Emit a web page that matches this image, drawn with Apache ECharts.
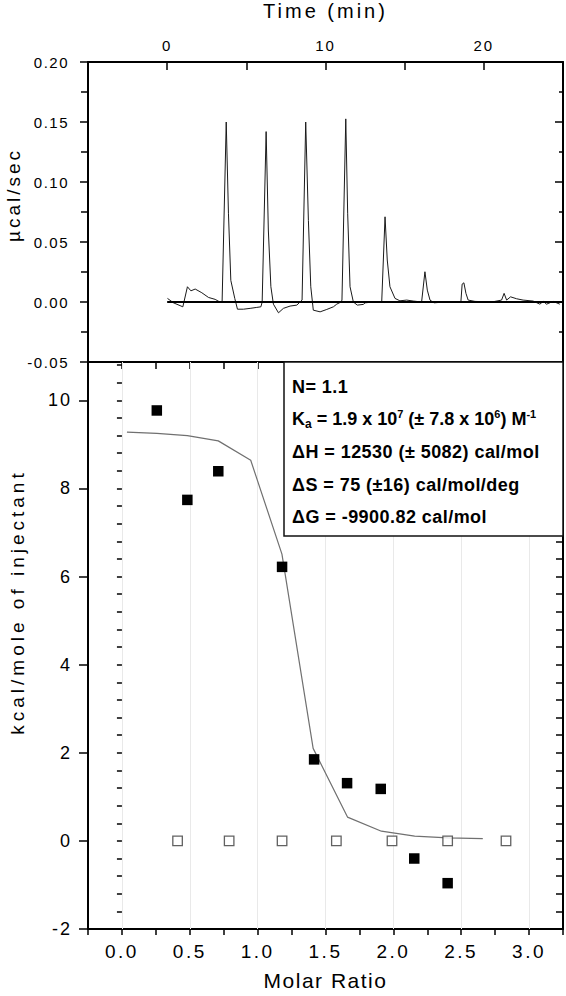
<!DOCTYPE html>
<html><head><meta charset="utf-8">
<script src="https://cdn.jsdelivr.net/npm/echarts@6/dist/echarts.min.js"></script>
<style>html,body{margin:0;padding:0;background:#fff}#c{width:566px;height:996px}</style>
</head><body><div id="c"></div>
<script>
// ---- Raw thermogram (top panel) ----
const timeMin = [0.02,0.40,0.99,1.28,1.50,1.77,2.19,2.61,3.03,3.30,
  3.47,3.73,3.87,4.02,4.27,4.44,4.82,5.24,5.66,5.92,
  6.00,6.25,6.39,6.55,6.71,7.03,7.34,7.76,8.19,8.39,
  8.52,8.75,8.92,9.07,9.23,9.66,10.08,10.50,10.71,10.98,
  11.04,11.28,11.40,11.55,11.76,12.01,12.39,12.50,13.00,13.55,
  13.76,13.90,14.07,14.39,14.70,15.13,15.54,16.07,16.28,16.43,
  16.60,16.85,17.50,18.55,18.63,18.74,18.87,19.01,19.44,20.50,
  21.12,21.28,21.44,21.69,22.07,22.48,23.11,23.54,23.75,23.96,
  24.38,24.80];
const powerUcalSec = [0.003,-0.0007,-0.004,0.0127,0.0093,0.0108,0.0077,0.0038,0.0022,0.0002,
  0.0,0.150,0.074,0.018,0.003,-0.006,-0.006,-0.0053,-0.0045,-0.004,
  0.0,0.142,0.060,0.0127,-0.0018,-0.009,-0.0053,-0.0034,-0.0026,0.0,
  0.0016,0.150,0.068,0.0127,-0.0068,-0.0082,-0.0062,-0.004,-0.0018,0.0,
  0.0016,0.1526,0.074,0.0127,0.0,-0.0026,-0.002,-0.0007,0.0,0.0,
  0.071,0.035,0.0127,0.003,0.001,0.0016,0.0008,0.0,0.0252,0.0099,
  0.0016,-0.0007,0.0,0.0,0.0149,0.016,0.0072,0.0016,0.0005,0.0,
  0.0016,0.0072,0.0016,0.0043,0.0027,0.0016,0.0008,-0.0018,0.0005,-0.0018,
  0.0005,-0.0018];
const baselineTime = [0, 25];
const baselinePower = [0, 0];

// ---- Integrated heats (bottom panel) ----
const molarRatio = [0.257,0.482,0.710,1.180,1.416,1.659,1.907,2.154,2.400];
const heatKcal   = [9.77,7.74,8.39,6.22,1.85,1.31,1.18,-0.40,-0.96];
const blankRatio = [0.41,0.79,1.18,1.58,1.99,2.40,2.83];
const blankHeat  = [0,0,0,0,0,0,0];
const fitRatio = [0.037,0.257,0.482,0.710,0.949,1.179,1.409,1.662,1.912,2.157,2.401,2.659];
const fitHeat  = [9.28,9.25,9.20,9.08,8.64,6.51,2.10,0.54,0.22,0.11,0.07,0.05];

// ---- Tick labels / text ----
const timeTickLabels = [0, 10, 20];
const ratioTickLabels = [0.0, 0.5, 1.0, 1.5, 2.0, 2.5, 3.0];
const fitLines = ['N= 1.1',
  '{b|K}{sub|a}{b| = 1.9 x 10}{sup|7}{b| (\u00b1 7.8 x 10}{sup|6}{b|) M}{sup|-1}',
  '\u0394H = 12530 (\u00b1 5082) cal/mol',
  '\u0394S = 75 (\u00b116) cal/mol/deg',
  '\u0394G = -9900.82 cal/mol'];

const FONT = '"Liberation Sans", Arial, sans-serif';
const BLACK = '#000';
const axLine = {show:true, onZero:false, lineStyle:{color:BLACK, width:2}};
const tickLS = {color:BLACK, width:1.5};
const near = (a,b)=>Math.abs(a-b)<1e-6;
const richStyles = {
  b:{fontSize:18, fontWeight:'bold', fontFamily:FONT, lineHeight:22, verticalAlign:'middle', fill:BLACK, color:BLACK},
  sup:{fontSize:11, fontWeight:'bold', fontFamily:FONT, lineHeight:11, verticalAlign:'top', fill:BLACK, color:BLACK},
  sub:{fontSize:12, fontWeight:'bold', fontFamily:FONT, lineHeight:17, verticalAlign:'bottom', fill:BLACK, color:BLACK}
};

const chart = echarts.init(document.getElementById('c'), null, {renderer:'svg'});
const option = {
  animation:false,
  backgroundColor:'#fff',
  grid:[{left:88, right:3, top:62, height:300},
        {left:88, right:3, top:362, height:572}],
  xAxis:[
    {gridIndex:0, type:'value', position:'top', min:-5, max:25, interval:5,
     axisLine:axLine, axisTick:{show:true, inside:true, length:8, lineStyle:tickLS},
     axisLabel:{margin:9, fontSize:15, color:BLACK, fontFamily:FONT,
       formatter:v=> timeTickLabels.some(t=>near(t,v)) ? String(v) : ''},
     splitLine:{show:false},
     name:'Time (min)', nameLocation:'middle', nameGap:41,
     nameTextStyle:{fontSize:20, color:BLACK, fontFamily:FONT}},
    {gridIndex:0, type:'value', position:'bottom', min:-5, max:25, interval:5,
     axisLine:axLine, axisTick:{show:false}, axisLabel:{show:false}, splitLine:{show:false}},
    {gridIndex:1, type:'value', position:'bottom', min:-0.25, max:3.25, interval:0.25,
     axisLine:axLine, axisTick:{show:true, inside:false, length:6, lineStyle:tickLS},
     axisLabel:{margin:13, fontSize:19, color:BLACK, fontFamily:FONT,
       formatter:v=> ratioTickLabels.some(t=>near(t,v)) ? v.toFixed(1) : ''},
     splitLine:{show:false},
     name:'Molar Ratio', nameLocation:'middle', nameGap:41,
     nameTextStyle:{fontSize:21, color:BLACK, fontFamily:FONT}},
    {gridIndex:1, type:'value', position:'top', min:-0.25, max:3.25, interval:0.25,
     axisLine:axLine, axisTick:{show:true, inside:true, length:7, lineStyle:tickLS},
     axisLabel:{show:false}, splitLine:{show:false}}
  ],
  yAxis:[
    {gridIndex:0, type:'value', position:'left', min:-0.05, max:0.20, interval:0.05,
     axisLine:axLine, axisTick:{show:true, inside:false, length:8, lineStyle:tickLS},
     minorTick:{show:true, splitNumber:2, length:7, lineStyle:tickLS},
     axisLabel:{margin:19, fontSize:15, color:BLACK, fontFamily:FONT, formatter:v=>v.toFixed(2)},
     splitLine:{show:false}},
    {gridIndex:0, type:'value', position:'right', min:-0.05, max:0.20, interval:0.05,
     axisLine:axLine, axisTick:{show:true, inside:true, length:8, lineStyle:tickLS},
     minorTick:{show:true, splitNumber:2, length:4, lineStyle:tickLS},
     axisLabel:{show:false}, splitLine:{show:false}},
    {gridIndex:1, type:'value', position:'left', min:-2, max:10.87, interval:2,
     axisLine:axLine, axisTick:{show:true, inside:false, length:9, lineStyle:tickLS},
     axisLabel:{margin:16, fontSize:18, color:BLACK, fontFamily:FONT, showMaxLabel:false},
     splitLine:{show:false}},
    {gridIndex:1, type:'value', position:'left', min:-2, max:10.87, interval:0.4,
     axisLine:{show:false}, axisTick:{show:true, inside:false, length:5, lineStyle:tickLS},
     axisLabel:{show:false}, splitLine:{show:false}},
    {gridIndex:1, type:'value', position:'right', min:-2, max:10.87, interval:0.4,
     axisLine:axLine, axisTick:{show:true, inside:true, length:7, lineStyle:tickLS},
     axisLabel:{show:false}, splitLine:{show:false}}
  ],
  series:[
    {type:'line', xAxisIndex:0, yAxisIndex:0, showSymbol:false, z:3,
     data: timeMin.map((t,i)=>[t, powerUcalSec[i]]),
     lineStyle:{color:'#1a1a1a', width:1}},
    {type:'line', xAxisIndex:0, yAxisIndex:0, showSymbol:false, z:4,
     data: baselineTime.map((t,i)=>[t, baselinePower[i]]),
     lineStyle:{color:BLACK, width:2}},
    {type:'line', xAxisIndex:2, yAxisIndex:2, showSymbol:false, z:3,
     data: fitRatio.map((x,i)=>[x, fitHeat[i]]),
     lineStyle:{color:'#707070', width:1.2},
     markLine:{silent:true, z:1, symbol:['none','none'], label:{show:false},
       lineStyle:{color:'#e9e9e9', width:1, type:'solid'},
       emphasis:{disabled:true},
       data: ratioTickLabels.map(v=>({xAxis:v}))}},
    {type:'scatter', xAxisIndex:2, yAxisIndex:2, symbol:'rect', symbolSize:9.5, z:4,
     data: blankRatio.map((x,i)=>[x, blankHeat[i]]),
     itemStyle:{color:'#fff', borderColor:'#3a3a3a', borderWidth:1.3}},
    {type:'scatter', xAxisIndex:2, yAxisIndex:2, symbol:'rect', symbolSize:10.5, z:5,
     data: molarRatio.map((x,i)=>[x, heatKcal[i]]),
     itemStyle:{color:BLACK, opacity:1}}
  ],
  graphic:[
    {type:'text', z:100, x:13, y:195, rotation:Math.PI/2,
     style:{text:'\u00b5cal/sec', font:'19px '+FONT, fill:BLACK, align:'center', verticalAlign:'middle', textAlign:'center', textVerticalAlign:'middle'}},
    {type:'text', z:100, x:17, y:602, rotation:Math.PI/2,
     style:{text:'kcal/mole of injectant', font:'19px '+FONT, fill:BLACK, align:'center', verticalAlign:'middle', textAlign:'center', textVerticalAlign:'middle'}},
    {type:'rect', z:100, shape:{x:284, y:362, width:279, height:174},
     style:{fill:'#fff', stroke:'#111', lineWidth:1.5}},
    ...fitLines.map((s,i)=>{
      const st = {text:s, font:'bold 18px '+FONT, fill:BLACK, align:'left', verticalAlign:'middle', textAlign:'left', textVerticalAlign:'middle'};
      if (s.indexOf('{') >= 0) st.rich = richStyles;
      return {type:'text', z:101, x:292, y:[386.8,419,452,485,517][i], style:st};
    })
  ]
};
chart.setOption(option);

const spacing = {'Time (min)':3, 'Molar Ratio':1.5, '\u00b5cal/sec':3, 'kcal/mole of injectant':4};
function applySpacing(){
  document.querySelectorAll('#c text').forEach(t=>{
    const s = t.textContent;
    const st = (t.getAttribute('style')||'') + ' ' + (t.getAttribute('font-weight')||'');
    let ls = null;
    if (/bold/.test(st)) {
      if (/^(N=|\u0394)/.test(s)) ls = 0.45;
    } else if (spacing[s] != null) ls = spacing[s];
    else if (/^-?\d+\.\d$/.test(s)) ls = 2.5;
    else if (/^-?\d+$/.test(s)) ls = 2;
    else if (/^-?\d\.\d\d$/.test(s)) ls = 1.5;
    if (ls != null) t.style.letterSpacing = ls + 'px';
  });
}
chart.on('finished', applySpacing);
applySpacing();
</script></body></html>
